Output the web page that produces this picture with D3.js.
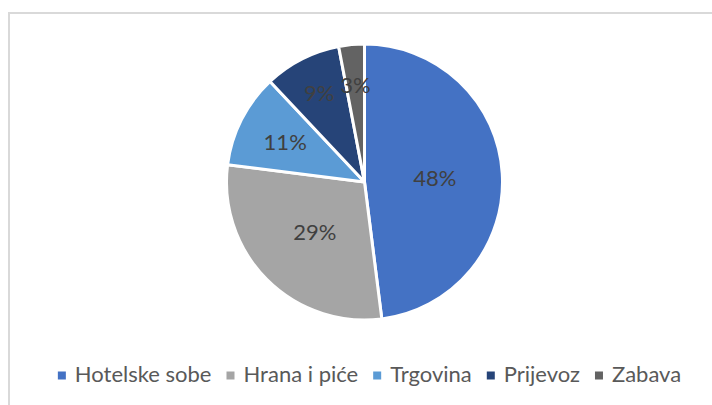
<!DOCTYPE html>
<html>
<head>
<meta charset="utf-8">
<script src="https://cdn.jsdelivr.net/npm/d3@7"></script>
<style>
  html, body { margin: 0; padding: 0; background: #fff; }
  svg { display: block; font-family: Lato, "Noto Sans", sans-serif; }
</style>
</head>
<body>
<div id="chart"></div>
<script>
// Categories and shares (percent)
const categories = ["Hotelske sobe", "Hrana i piće", "Trgovina", "Prijevoz", "Zabava"];
const shares = [48, 29, 11, 9, 3];
const colors = ["#4472C4", "#A5A5A5", "#5B9BD5", "#264478", "#636363"];

// Where each label sits, as a fraction of the radius (Excel pushes small ones out)
const labelRadiusFrac = [0.51, 0.51, 0.645, 0.725, 0.705];

const width = 712, height = 405;
const cx = 364.5, cy = 182, radius = 138;

const svg = d3.select("#chart").append("svg")
    .attr("width", width)
    .attr("height", height);

// Chart frame (cropped at right and bottom)
svg.append("rect")
    .attr("x", 9).attr("y", 13)
    .attr("width", 800).attr("height", 500)
    .attr("fill", "none")
    .attr("stroke", "#d9d9d9")
    .attr("stroke-width", 2);

const data = categories.map((c, i) => ({ name: c, value: shares[i], color: colors[i], lr: labelRadiusFrac[i] }));

const pie = d3.pie().value(d => d.value).sort(null);
const arc = d3.arc().innerRadius(0).outerRadius(radius);
const arcs = pie(data);

const g = svg.append("g").attr("transform", `translate(${cx},${cy})`);

g.selectAll("path.slice")
    .data(arcs)
    .enter().append("path")
    .attr("class", "slice")
    .attr("d", arc)
    .attr("fill", d => d.data.color)
    .attr("stroke", "#fff")
    .attr("stroke-width", 3)
    .attr("stroke-linejoin", "round");

// Percent labels
g.selectAll("text.lbl")
    .data(arcs)
    .enter().append("text")
    .attr("class", "lbl")
    .attr("transform", d => {
        const a = (d.startAngle + d.endAngle) / 2;
        const r = radius * d.data.lr;
        return `translate(${r * Math.sin(a)},${-r * Math.cos(a)})`;
    })
    .attr("text-anchor", "middle")
    .attr("dy", "0.36em")
    .attr("font-size", 22)
    .attr("fill", "#404040")
    .text(d => d.data.value + "%");

// Legend, centered under the pie
const legend = svg.append("g");
const items = legend.selectAll("g.item")
    .data(data)
    .enter().append("g")
    .attr("class", "item");

items.append("rect")
    .attr("width", 8).attr("height", 8)
    .attr("y", -10)
    .attr("fill", d => d.color);

items.append("text")
    .attr("x", 17)
    .attr("font-size", 22)
    .attr("fill", "#595959")
    .text(d => d.name);

let xPos = 0;
items.each(function() {
    const w = d3.select(this).select("text").node().getComputedTextLength();
    d3.select(this).attr("transform", `translate(${xPos},0)`);
    xPos += 17 + w + 15;
});
const total = xPos - 15;
legend.attr("transform", `translate(${369.5 - total / 2},381.5)`);
</script>
</body>
</html>
